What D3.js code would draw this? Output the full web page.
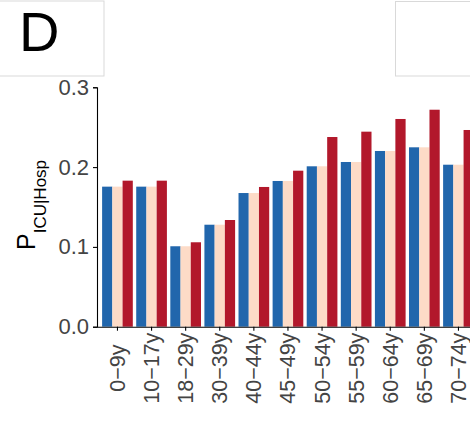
<!DOCTYPE html>
<html>
<head>
<meta charset="utf-8">
<script src="https://cdn.jsdelivr.net/npm/d3@7"></script>
<style>
  html, body { margin: 0; padding: 0; background: #fff; overflow: hidden; }
  svg { display: block; font-family: "Liberation Sans", Arial, Helvetica, sans-serif; }
</style>
</head>
<body>
<svg id="chart" width="470" height="441"></svg>
<script>
// Age groups shown on the x axis
const ageGroups = ["0\u22129y", "10\u221217y", "18\u221229y", "30\u221239y", "40\u221244y",
  "45\u221249y", "50\u221254y", "55\u221259y", "60\u221264y", "65\u221269y", "70\u221274y"];

// P(ICU | hospitalised) per age group, three variants
const seriesNames = ["baseline", "adjusted", "upper"];
const baselineValues = [0.1755, 0.1755, 0.1008, 0.1278, 0.1675, 0.1826, 0.2010, 0.2064, 0.2202, 0.2248, 0.2030];
const adjustedValues = [0.1755, 0.1755, 0.1008, 0.1278, 0.1675, 0.1826, 0.2010, 0.2064, 0.2202, 0.2248, 0.2030];
const upperValues    = [0.1830, 0.1830, 0.1058, 0.1337, 0.1751, 0.1955, 0.2377, 0.2444, 0.2603, 0.2719, 0.2465];
const seriesColors = ["#2166ac", "#fddbc7", "#b2182b"];

const yTicks = [0.0, 0.1, 0.2, 0.3];

const svg = d3.select("#chart");

// Panel header boxes
svg.append("rect").attr("x", -2).attr("y", 1).attr("width", 106).attr("height", 75)
  .attr("fill", "#fff").attr("stroke", "#d9d9d9").attr("stroke-width", 1);
svg.append("rect").attr("x", 395.5).attr("y", 1.5).attr("width", 90).attr("height", 74.5)
  .attr("fill", "#fff").attr("stroke", "#d9d9d9").attr("stroke-width", 1);
svg.append("text").attr("x", 19).attr("y", 51)
  .attr("font-size", 56).attr("fill", "#000").text("D");

// Plot geometry
const axisX = 97, yTop = 87.3, yBottom = 326.7;
const step = 34.1;

const x = d3.scaleBand()
  .domain(ageGroups)
  .range([axisX, axisX + step * (ageGroups.length + 0.2)])
  .paddingInner(0.1)
  .paddingOuter(0.15);

const xInner = d3.scaleBand()
  .domain(seriesNames)
  .range([0, x.bandwidth()])
  .padding(0);

const y = d3.scaleLinear().domain([0, 0.3]).range([yBottom, yTop]);

const rows = ageGroups.map((g, i) => ({
  group: g,
  values: [baselineValues[i], adjustedValues[i], upperValues[i]]
}));

// Bars
const groups = svg.append("g").selectAll("g")
  .data(rows).join("g")
  .attr("transform", d => `translate(${x(d.group)},0)`);

groups.selectAll("rect")
  .data(d => d.values.map((v, k) => ({ name: seriesNames[k], value: v, color: seriesColors[k] })))
  .join("rect")
  .attr("x", d => xInner(d.name))
  .attr("width", xInner.bandwidth())
  .attr("y", d => y(d.value))
  .attr("height", d => y(0) - y(d.value))
  .attr("fill", d => d.color);

// Y axis
const yAxis = svg.append("g")
  .attr("transform", `translate(${axisX},0)`)
  .call(d3.axisLeft(y).tickValues(yTicks).tickFormat(d3.format(".1f")).tickSize(4).tickPadding(4));
yAxis.select(".domain").attr("stroke", "#000").attr("stroke-width", 1.1);
yAxis.selectAll(".tick line").attr("stroke", "#000").attr("stroke-width", 1.1);
yAxis.selectAll(".tick text").attr("font-size", 22).attr("fill", "#444")
  .attr("font-family", "Liberation Sans, Arial, sans-serif");

// X axis, labels rotated and centred under each tick
const xAxis = svg.append("g")
  .attr("transform", `translate(0,${yBottom})`)
  .call(d3.axisBottom(x).tickSizeInner(4).tickSizeOuter(0).tickPadding(4));
xAxis.select(".domain").attr("stroke", "#000").attr("stroke-width", 1.1);
xAxis.selectAll(".tick line").attr("stroke", "#000").attr("stroke-width", 1.1);
xAxis.selectAll(".tick text")
  .attr("font-size", 21.5).attr("fill", "#444")
  .attr("font-family", "Liberation Sans, Arial, sans-serif")
  .attr("text-anchor", "middle")
  .attr("transform", "rotate(-90)")
  .attr("x", -41.5).attr("y", 0).attr("dy", "0.35em");

// Y axis title: P with subscript ICU|Hosp
const title = svg.append("text")
  .attr("transform", "translate(34.5,205) rotate(-90)")
  .attr("text-anchor", "middle")
  .attr("fill", "#000");
title.append("tspan").attr("font-size", 25).text("P");
title.append("tspan").attr("font-size", 17).attr("dy", 11.5).text("ICU|Hosp");
</script>
</body>
</html>
